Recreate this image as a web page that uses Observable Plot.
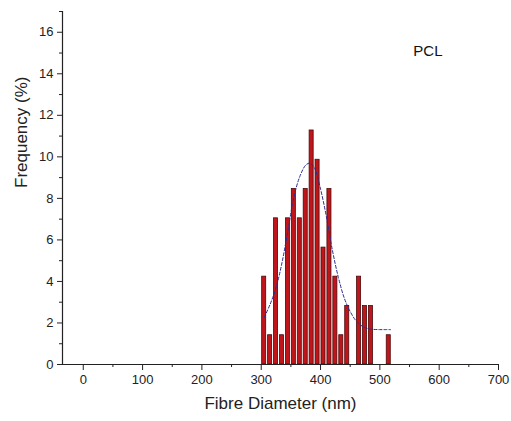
<!DOCTYPE html>
<html>
<head>
<meta charset="utf-8">
<script src="https://cdn.jsdelivr.net/npm/d3@7"></script>
<script src="https://cdn.jsdelivr.net/npm/@observablehq/plot@0.6"></script>
<style>
  html, body { margin: 0; padding: 0; background: #fff; }
  #chart svg { display: block; }
</style>
</head>
<body>
<div id="chart"></div>
<script>
// Histogram bins (bin centre, nm) and frequencies (%)
const binCenters = [305, 315, 325, 335, 345, 355, 365, 375, 385, 395, 405, 415, 425, 435, 445, 455, 465, 475, 485, 495, 505, 515];
const frequencies = [4.23, 1.41, 7.04, 1.41, 7.04, 8.45, 7.04, 8.45, 11.27, 9.86, 5.63, 8.45, 4.23, 1.41, 2.82, 0, 4.23, 2.82, 2.82, 0, 0, 1.41];
const binWidth = 10;

// Fitted curve
const fitX = [305, 315, 325, 335, 345, 355, 365, 375, 382, 390, 400, 410, 420, 430, 440, 450, 460, 470, 480, 490, 500, 510, 518];
const fitY = [2.27, 2.9, 3.7, 4.9, 6.45, 8.05, 9.05, 9.6, 9.7, 9.45, 8.45, 7.1, 5.5, 4.2, 3.2, 2.55, 2.1, 1.85, 1.73, 1.69, 1.68, 1.68, 1.68];

const xMajorTicks = [0, 100, 200, 300, 400, 500, 600, 700];
const xMinorTicks = [50, 150, 250, 350, 450, 550, 650];
const yMajorTicks = [0, 2, 4, 6, 8, 10, 12, 14, 16];
const yMinorTicks = [1, 3, 5, 7, 9, 11, 13, 15, 17];

const xTitle = "Fibre Diameter (nm)";
const yTitle = "Frequency (%)";
const sampleLabel = "PCL";

const bars = binCenters.map((c, i) => ({x1: c - binWidth * 0.34, x2: c + binWidth * 0.34, y: frequencies[i]})).filter(d => d.y > 0);
const fit = fitX.map((x, i) => ({x, y: fitY[i]}));

const font = "'Liberation Sans', Arial, Helvetica, sans-serif";

const chart = Plot.plot({
  width: 511,
  height: 421,
  marginLeft: 62,
  marginRight: 13,
  marginTop: 11,
  marginBottom: 57,
  style: {fontFamily: font, background: "#fff", color: "#222"},
  x: {domain: [-35, 700], axis: null},
  y: {domain: [0, 17], axis: null},
  marks: [
    Plot.rectY(bars, {x1: "x1", x2: "x2", y: "y", fill: "#c0161b", stroke: "#4a0a0a", strokeWidth: 0.8}),
    Plot.line(fit, {x: "x", y: "y", stroke: "#2b2b8f", strokeWidth: 1, strokeDasharray: "3,2", curve: "catmull-rom"}),
    Plot.ruleY([0], {stroke: "#222", strokeWidth: 1.2}),
    Plot.ruleX([-35], {stroke: "#222", strokeWidth: 1.2}),
    Plot.axisX({ticks: xMajorTicks, tickSize: 6, tickPadding: 4, fontSize: 13, label: null, stroke: "#222"}),
    Plot.axisX({ticks: xMinorTicks, tickSize: 3, tickFormat: () => "", label: null, stroke: "#222"}),
    Plot.axisY({ticks: yMajorTicks, tickSize: 5, tickPadding: 4, fontSize: 13, label: null, stroke: "#222"}),
    Plot.axisY({ticks: yMinorTicks, tickSize: 3, tickFormat: () => "", label: null, stroke: "#222"}),
    Plot.text([xTitle], {frameAnchor: "bottom", dy: 44, fontSize: 17, fill: "#222"}),
    Plot.text([yTitle], {frameAnchor: "left", dx: -41, rotate: -90, fontSize: 17, fill: "#222"}),
    Plot.text([sampleLabel], {frameAnchor: "top-right", dx: -56, dy: 34, fontSize: 15, fill: "#111"})
  ]
});
document.getElementById("chart").appendChild(chart);
</script>
</body>
</html>
